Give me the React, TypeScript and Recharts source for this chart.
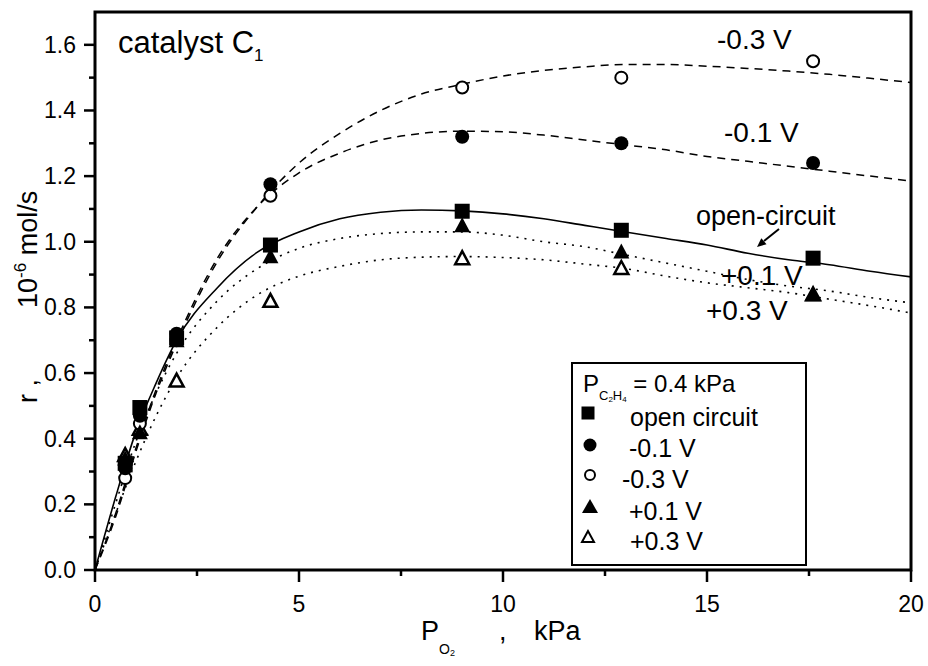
import React from "react";
import {
  ComposedChart,
  XAxis,
  YAxis,
  Line,
  Scatter,
  ReferenceArea,
} from "recharts";

// measured rates, 10^-6 mol/s, at each O2 partial pressure (kPa)
const pO2 = [0.74, 1.1, 2.0, 4.3, 9.0, 12.9, 17.6];
const rOpenCircuit = [0.325, 0.495, 0.707, 0.99, 1.093, 1.035, 0.95];
const rMinus01 = [0.31, 0.47, 0.72, 1.175, 1.32, 1.3, 1.24];
const rMinus03 = [0.28, 0.446, 0.7, 1.14, 1.47, 1.5, 1.55];
const rPlus01 = [0.34, 0.42, 0.7, 0.956, 1.05, 0.97, 0.84];
const rPlus03 = [0.35, 0.43, 0.577, 0.82, 0.95, 0.92, 0.84];

// fitted curves
const fitP = [0, 0.5, 1, 1.5, 2, 3, 4, 5, 6, 7, 8, 9, 10, 11, 12, 13, 14, 15, 16, 17, 18, 19, 20];
const fitOpenCircuit = [0, 0.22, 0.42, 0.57, 0.7, 0.86, 0.97, 1.03, 1.07, 1.09, 1.097, 1.094, 1.085, 1.07, 1.05, 1.03, 1.01, 0.99, 0.965, 0.945, 0.93, 0.91, 0.893];
const fitMinus01 = [0, 0.17, 0.37, 0.55, 0.7, 0.95, 1.11, 1.21, 1.27, 1.31, 1.33, 1.337, 1.335, 1.325, 1.31, 1.295, 1.28, 1.26, 1.245, 1.23, 1.215, 1.2, 1.185];
const fitMinus03 = [0, 0.16, 0.36, 0.54, 0.69, 0.94, 1.11, 1.24, 1.33, 1.4, 1.45, 1.48, 1.505, 1.522, 1.533, 1.54, 1.54, 1.535, 1.528, 1.52, 1.51, 1.498, 1.485];
const fitPlus01 = [0, 0.2, 0.39, 0.54, 0.66, 0.82, 0.92, 0.98, 1.01, 1.025, 1.03, 1.03, 1.02, 1.0, 0.985, 0.96, 0.935, 0.91, 0.885, 0.865, 0.85, 0.83, 0.814];
const fitPlus03 = [0, 0.17, 0.33, 0.47, 0.585, 0.74, 0.84, 0.895, 0.925, 0.945, 0.953, 0.955, 0.952, 0.945, 0.932, 0.918, 0.895, 0.875, 0.86, 0.845, 0.825, 0.805, 0.783];

const xTicks = [0, 2.5, 5, 7.5, 10, 12.5, 15, 17.5, 20];
const yTicks = [0, 0.1, 0.2, 0.3, 0.4, 0.5, 0.6, 0.7, 0.8, 0.9, 1.0, 1.1, 1.2, 1.3, 1.4, 1.5, 1.6];

const FONT = '"Liberation Sans", Arial, Helvetica, sans-serif';

const pts = (ys: number[]) => pO2.map((x, i) => ({ x, y: ys[i] }));
const fit = (ys: number[]) => fitP.map((x, i) => ({ x, y: ys[i] }));

const XTick = (props: any) => {
  const { x, y, payload } = props;
  const v = payload.value as number;
  const major = v % 5 === 0;
  return (
    <g>
      <line x1={x} x2={x} y1={y} y2={y + (major ? 12 : 6)} stroke="#000" strokeWidth={2.5} />
      {major && (
        <text x={x} y={y + 42} textAnchor="middle" fontSize={23} fontFamily={FONT} fill="#000">
          {v}
        </text>
      )}
    </g>
  );
};

const YTick = (props: any) => {
  const { x, y, payload } = props;
  const v = payload.value as number;
  const major = Math.round(v * 10) % 2 === 0;
  return (
    <g>
      <line x1={x - (major ? 11 : 6)} x2={x} y1={y} y2={y} stroke="#000" strokeWidth={2.5} />
      {major && (
        <text x={x - 19} y={y + 8} textAnchor="end" fontSize={23} fontFamily={FONT} fill="#000">
          {v.toFixed(1)}
        </text>
      )}
    </g>
  );
};

const FilledSquare = (p: any) => (
  <rect x={p.cx - 7.5} y={p.cy - 7.5} width={15} height={15} fill="#000" />
);
const FilledCircle = (p: any) => <circle cx={p.cx} cy={p.cy} r={7} fill="#000" />;
const OpenCircle = (p: any) => (
  <circle cx={p.cx} cy={p.cy} r={6} fill="#fff" stroke="#000" strokeWidth={2} />
);
const FilledTriangle = (p: any) => (
  <polygon
    points={`${p.cx},${p.cy - 8} ${p.cx - 8},${p.cy + 7} ${p.cx + 8},${p.cy + 7}`}
    fill="#000"
  />
);
const OpenTriangle = (p: any) => (
  <polygon
    points={`${p.cx},${p.cy - 7} ${p.cx - 7},${p.cy + 6} ${p.cx + 7},${p.cy + 6}`}
    fill="#fff"
    stroke="#000"
    strokeWidth={2.5}
    strokeLinejoin="miter"
  />
);

const textStyle = { fontFamily: FONT, fill: "#000" };

const Overlay = () => (
  <svg
    width={928}
    height={666}
    style={{ position: "absolute", left: 0, top: 0, pointerEvents: "none" }}
  >
    {/* panel title */}
    <text x={118} y={53} fontSize={31} {...textStyle}>
      catalyst C
      <tspan fontSize={17} dy={8}>1</tspan>
    </text>

    {/* curve labels */}
    <text x={717} y={49} fontSize={28} {...textStyle}>-0.3 V</text>
    <text x={724} y={142} fontSize={28} {...textStyle}>-0.1 V</text>
    <text x={696} y={225} fontSize={27} {...textStyle}>open-circuit</text>
    <text x={721} y={285} fontSize={28} {...textStyle}>+0.1 V</text>
    <text x={706} y={320} fontSize={28} {...textStyle}>+0.3 V</text>
    <line x1={779} y1={229} x2={764} y2={241} stroke="#000" strokeWidth={2} />
    <polygon points="757,247 766.5,244.3 761.3,238.2" fill="#000" />

    {/* axis titles */}
    <text x={37} y={403} fontSize={27} transform="rotate(-90 37 403)" {...textStyle}>
      r ,
    </text>
    <text x={37} y={308} fontSize={27} transform="rotate(-90 37 308)" {...textStyle}>
      10
      <tspan fontSize={17} dy={-11}>-6</tspan>
      <tspan dy={11}> mol/s</tspan>
    </text>
    <text x={421} y={640} fontSize={27} {...textStyle}>
      P
      <tspan fontSize={14} dy={14}>O</tspan>
      <tspan fontSize={9} dy={2}>2</tspan>
    </text>
    <text x={499} y={640} fontSize={27} {...textStyle}>,</text>
    <text x={534} y={640} fontSize={27} {...textStyle}>kPa</text>

    {/* legend */}
    <rect x={572} y={363} width={234} height={202} fill="#fff" stroke="#000" strokeWidth={2} />
    <text x={583} y={392} fontSize={24} {...textStyle}>
      P
      <tspan fontSize={13} dy={8}>C</tspan>
      <tspan fontSize={8} dy={2}>2</tspan>
      <tspan fontSize={13} dy={-2}>H</tspan>
      <tspan fontSize={8} dy={2}>4</tspan>
      <tspan fontSize={24} dy={-10}> = 0.4 kPa</tspan>
    </text>
    <rect x={581.5} y={406.5} width={13} height={13} fill="#000" />
    <text x={630} y={426} fontSize={25} {...textStyle}>open circuit</text>
    <circle cx={590} cy={445} r={6.5} fill="#000" />
    <text x={629} y={457} fontSize={25} {...textStyle}>-0.1 V</text>
    <circle cx={590} cy={475} r={5} fill="#fff" stroke="#000" strokeWidth={2} />
    <text x={622} y={488} fontSize={25} {...textStyle}>-0.3 V</text>
    <polygon points="590,499 582,513 598,513" fill="#000" />
    <text x={629} y={520} fontSize={25} {...textStyle}>+0.1 V</text>
    <polygon points="588,531 582,542 594,542" fill="#fff" stroke="#000" strokeWidth={2} />
    <text x={630} y={550} fontSize={25} {...textStyle}>+0.3 V</text>
  </svg>
);

export default function App() {
  return (
    <div style={{ position: "absolute", left: 0, top: 0, width: 928, height: 666, background: "#fff" }}>
      <ComposedChart
        width={928}
        height={666}
        margin={{ top: 12, right: 17, bottom: 56, left: 35 }}
      >
        <XAxis
          type="number"
          dataKey="x"
          domain={[0, 20]}
          ticks={xTicks}
          axisLine={false}
          tickLine={false}
          tickSize={0}
          tickMargin={0}
          height={40}
          tick={<XTick />}
          interval={0}
          allowDataOverflow
        />
        <YAxis
          type="number"
          dataKey="y"
          domain={[0, 1.7]}
          ticks={yTicks}
          axisLine={false}
          tickLine={false}
          tickSize={0}
          tickMargin={0}
          width={60}
          tick={<YTick />}
          interval={0}
          allowDataOverflow
        />
        <ReferenceArea
          x1={0}
          x2={20}
          y1={0}
          y2={1.7}
          fill="none"
          fillOpacity={0}
          stroke="#000"
          strokeWidth={3}
          ifOverflow="visible"
        />

        <Line data={fit(fitOpenCircuit)} dataKey="y" type="monotone" stroke="#000" strokeWidth={1.6} dot={false} activeDot={false} isAnimationActive={false} />
        <Line data={fit(fitMinus01)} dataKey="y" type="monotone" stroke="#000" strokeWidth={1.5} strokeDasharray="8 6" dot={false} activeDot={false} isAnimationActive={false} />
        <Line data={fit(fitMinus03)} dataKey="y" type="monotone" stroke="#000" strokeWidth={1.5} strokeDasharray="8 6" dot={false} activeDot={false} isAnimationActive={false} />
        <Line data={fit(fitPlus01)} dataKey="y" type="monotone" stroke="#000" strokeWidth={1.6} strokeDasharray="2 6" dot={false} activeDot={false} isAnimationActive={false} />
        <Line data={fit(fitPlus03)} dataKey="y" type="monotone" stroke="#000" strokeWidth={1.6} strokeDasharray="2 6" dot={false} activeDot={false} isAnimationActive={false} />

        <Scatter data={pts(rPlus03)} dataKey="y" shape={OpenTriangle} isAnimationActive={false} />
        <Scatter data={pts(rMinus03)} dataKey="y" shape={OpenCircle} isAnimationActive={false} />
        <Scatter data={pts(rPlus01)} dataKey="y" shape={FilledTriangle} isAnimationActive={false} />
        <Scatter data={pts(rMinus01)} dataKey="y" shape={FilledCircle} isAnimationActive={false} />
        <Scatter data={pts(rOpenCircuit)} dataKey="y" shape={FilledSquare} isAnimationActive={false} />
      </ComposedChart>
      <Overlay />
    </div>
  );
}
